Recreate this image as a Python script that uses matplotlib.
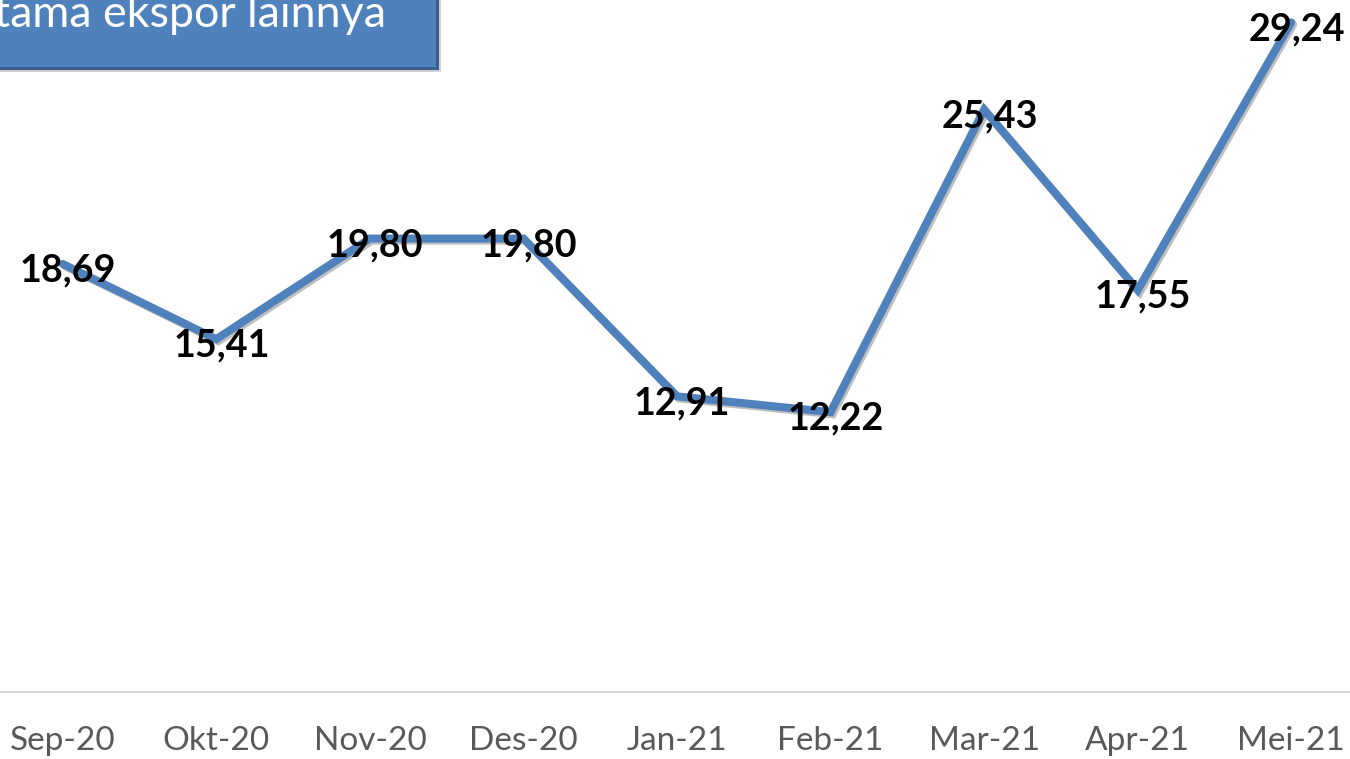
import matplotlib
matplotlib.use("Agg")
import matplotlib.pyplot as plt
import matplotlib.patheffects as pe
from matplotlib.patches import Rectangle

categories = ["Sep-20", "Okt-20", "Nov-20", "Des-20", "Jan-21", "Feb-21", "Mar-21", "Apr-21", "Mei-21"]
values = [18.69, 15.41, 19.80, 19.80, 12.91, 12.22, 25.43, 17.55, 29.24]
value_labels = ["18,69", "15,41", "19,80", "19,80", "12,91", "12,22", "25,43", "17,55", "29,24"]
box_text = "tama ekspor lainnya"

W, H, DPI = 1350, 759, 100
fig = plt.figure(figsize=(W / DPI, H / DPI), dpi=DPI)
fig.patch.set_facecolor("white")

# plot area (in pixels): x from -14 to 1368, y (from top) 5 to 692
left_px, right_px, top_px, bottom_px = -14, 1368, 5, 692
ax = fig.add_axes([left_px / W, (H - bottom_px) / H, (right_px - left_px) / W, (bottom_px - top_px) / H])
ax.set_xlim(-0.5, len(categories) - 0.5)
ax.set_ylim(0, 30)
ax.patch.set_alpha(0)

x = list(range(len(categories)))
line_color = "#4F81BD"
ax.plot(x, values, color=line_color, lw=5.8, solid_joinstyle="miter", solid_capstyle="round",
        path_effects=[pe.SimpleLineShadow(offset=(1.5, -1.5), shadow_color="black", alpha=0.25), pe.Normal()],
        zorder=3, clip_on=False)

for xi, v, lab in zip(x, values, value_labels):
    ax.annotate(lab, (xi, v), xytext=(3.8, -12.8), textcoords="offset points",
                ha="center", va="baseline", fontsize=27.2, fontweight="bold",
                family=["Lato", "DejaVu Sans"], color="black", zorder=5, annotation_clip=False)

ax.set_xticks(x)
ax.set_xticklabels(categories, fontsize=24, color="#595959", family=["Lato", "DejaVu Sans"])
ax.tick_params(axis="x", length=0, pad=24.5)
ax.set_yticks([])
for s in ["left", "right", "top"]:
    ax.spines[s].set_visible(False)
ax.spines["bottom"].set_color("#D9D9D9")
ax.spines["bottom"].set_linewidth(1.6)

# text box at top-left (cropped)
def px_rect(x0, y0, x1, y1, **kw):
    return Rectangle((x0 / W, (H - y1) / H), (x1 - x0) / W, (y1 - y0) / H,
                     transform=fig.transFigure, figure=fig, **kw)

fig.patches.append(px_rect(-10, -10, 441, 72, facecolor="#000000", alpha=0.18, edgecolor="none", zorder=1))
fig.patches.append(px_rect(-10, -10, 437, 68, facecolor="#4F81BD", edgecolor="#3B5F8C", linewidth=2.2, zorder=2))
fig.text(386 / W, (H - 27) / H, box_text, ha="right", va="baseline", fontsize=32.3,
         color="white", family=["Lato", "DejaVu Sans"], zorder=3)

fig.savefig("out.png", dpi=DPI)
